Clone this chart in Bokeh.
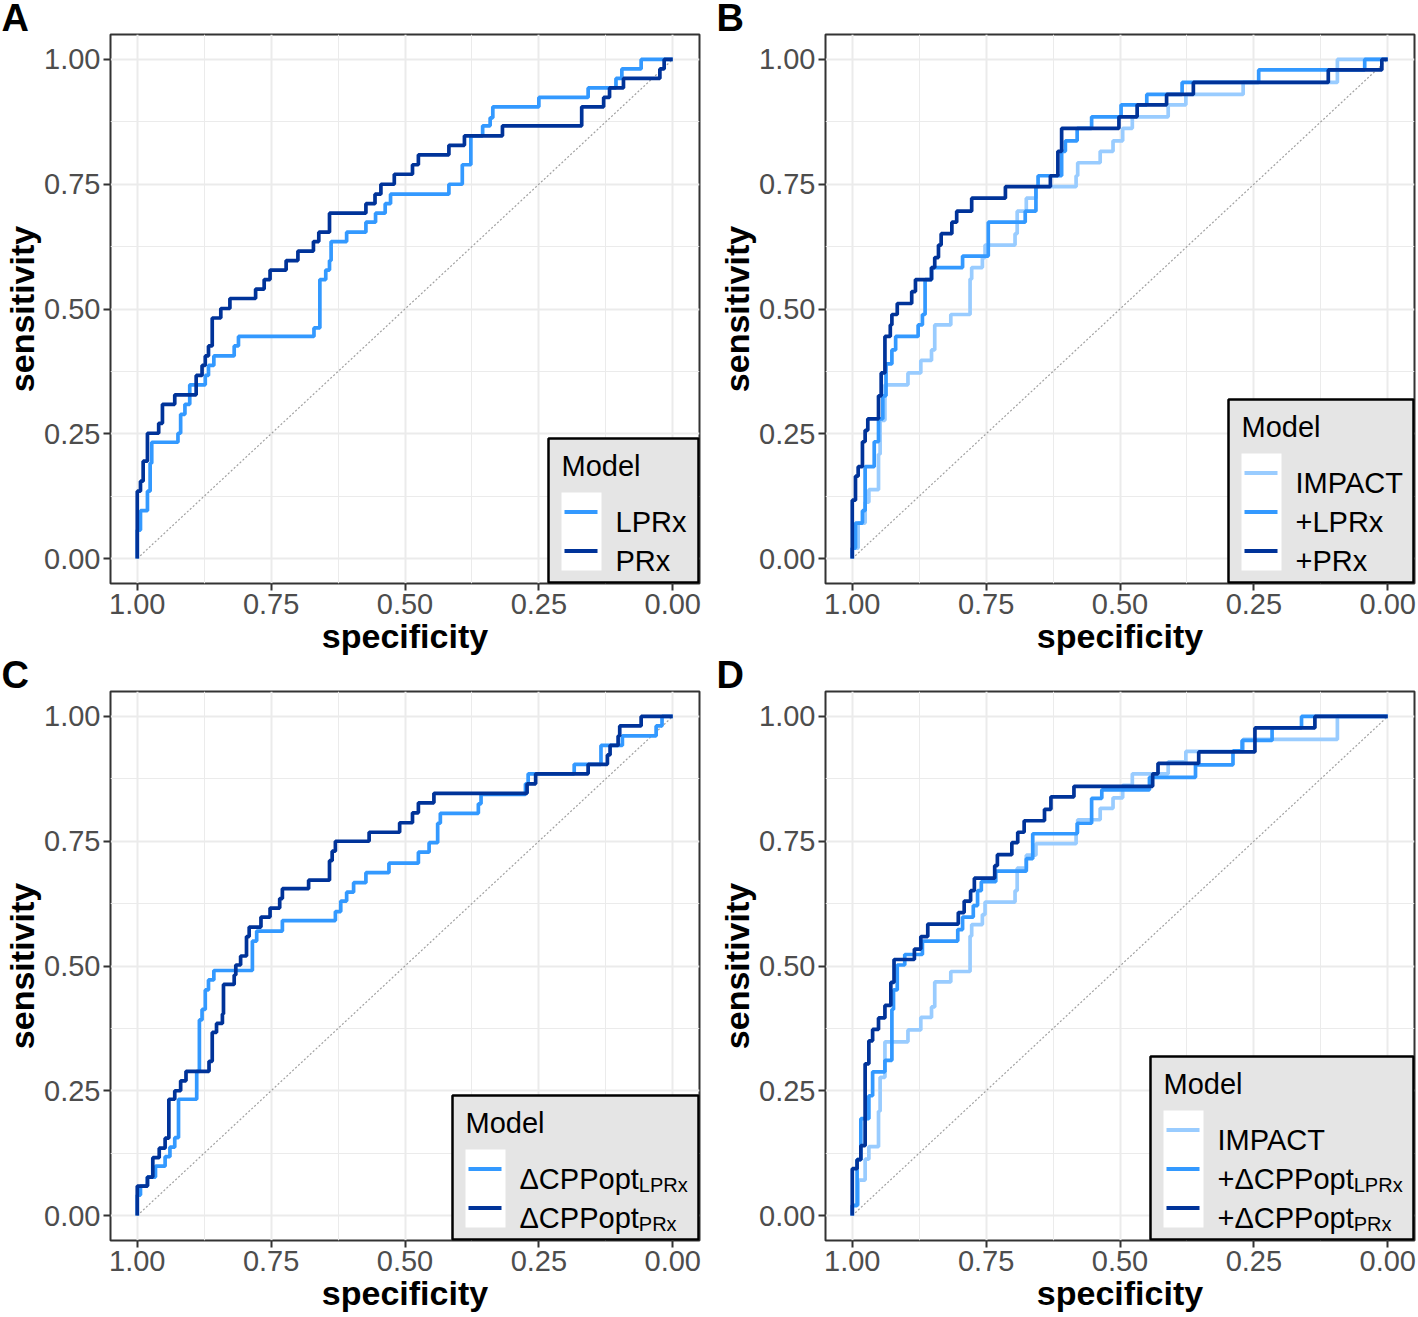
from bokeh.plotting import figure
from bokeh.layouts import row, column
from bokeh.models import Range1d, FixedTicker, NumeralTickFormatter
from bokeh.core.properties import value
from bokeh.embed import file_html
from bokeh.resources import INLINE

# ---------------- data (specificity at which each step rises, sensitivity reached) -------------
A_LPRx_spec = [1.0, 0.994, 0.981, 0.976, 0.973, 0.924, 0.919, 0.911, 0.902, 0.873, 0.867, 0.857, 0.819, 0.811,
               0.670, 0.659, 0.648, 0.641, 0.638, 0.609, 0.573, 0.555, 0.537, 0.527, 0.418, 0.393, 0.377, 0.355,
               0.341, 0.336, 0.250, 0.158, 0.106, 0.095, 0.059]
A_LPRx_sens = [0.057, 0.096, 0.135, 0.191, 0.233, 0.251, 0.289, 0.309, 0.348, 0.367, 0.387, 0.406, 0.426, 0.445,
               0.462, 0.559, 0.578, 0.597, 0.635, 0.654, 0.674, 0.692, 0.711, 0.730, 0.750, 0.789, 0.847, 0.867,
               0.883, 0.905, 0.924, 0.943, 0.962, 0.981, 1.0]

A_PRx_spec = [1.0, 0.994, 0.989, 0.981, 0.960, 0.953, 0.930, 0.890, 0.879, 0.873, 0.867, 0.860, 0.844, 0.827,
              0.779, 0.763, 0.752, 0.722, 0.700, 0.671, 0.661, 0.641, 0.573, 0.556, 0.545, 0.520, 0.486, 0.475,
              0.418, 0.389, 0.318, 0.170, 0.129, 0.118, 0.092, 0.024, 0.016]
A_PRx_sens = [0.135, 0.155, 0.195, 0.251, 0.271, 0.309, 0.328, 0.367, 0.387, 0.406, 0.426, 0.482, 0.501, 0.521,
              0.540, 0.559, 0.578, 0.597, 0.616, 0.635, 0.654, 0.692, 0.711, 0.730, 0.750, 0.770, 0.789, 0.809,
              0.828, 0.847, 0.867, 0.905, 0.924, 0.943, 0.962, 0.981, 1.0]

IMPACT_spec = [1.0, 0.989, 0.976, 0.969, 0.951, 0.948, 0.939, 0.896, 0.872, 0.852, 0.846, 0.816, 0.780, 0.777,
               0.757, 0.752, 0.696, 0.692, 0.675, 0.657, 0.582, 0.579, 0.537, 0.513, 0.495, 0.477, 0.410, 0.377,
               0.270, 0.094]
IMPACT_sens = [0.021, 0.071, 0.113, 0.138, 0.209, 0.277, 0.348, 0.372, 0.397, 0.418, 0.468, 0.489, 0.560, 0.583,
               0.603, 0.628, 0.651, 0.696, 0.722, 0.745, 0.767, 0.793, 0.816, 0.837, 0.862, 0.885, 0.909, 0.930,
               0.954, 1.0]

B_LPRx_spec = [1.0, 0.994, 0.981, 0.976, 0.959, 0.951, 0.943, 0.937, 0.926, 0.919, 0.877, 0.869, 0.864, 0.852,
               0.794, 0.746, 0.677, 0.657, 0.653, 0.609, 0.602, 0.580, 0.553, 0.498, 0.450, 0.384, 0.241, 0.043]
B_LPRx_sens = [0.021, 0.071, 0.096, 0.184, 0.234, 0.280, 0.326, 0.390, 0.418, 0.445, 0.468, 0.489, 0.559, 0.583,
               0.606, 0.674, 0.696, 0.745, 0.767, 0.816, 0.837, 0.862, 0.885, 0.909, 0.930, 0.954, 0.979, 1.0]

B_PRx_spec = [1.0, 0.994, 0.989, 0.981, 0.976, 0.971, 0.951, 0.946, 0.939, 0.929, 0.926, 0.916, 0.889, 0.882,
              0.852, 0.846, 0.839, 0.834, 0.814, 0.805, 0.777, 0.714, 0.630, 0.616, 0.609, 0.502, 0.468, 0.413,
              0.363, 0.111, 0.011]
B_PRx_sens = [0.117, 0.165, 0.184, 0.234, 0.257, 0.280, 0.326, 0.372, 0.445, 0.468, 0.489, 0.511, 0.535, 0.559,
              0.583, 0.603, 0.628, 0.651, 0.674, 0.696, 0.722, 0.745, 0.767, 0.816, 0.862, 0.885, 0.909, 0.930,
              0.954, 0.979, 1.0]

C_LPRx_spec = [1.0, 0.994, 0.981, 0.966, 0.948, 0.939, 0.930, 0.923, 0.889, 0.884, 0.879, 0.873, 0.867, 0.857,
               0.785, 0.777, 0.729, 0.630, 0.620, 0.609, 0.596, 0.573, 0.530, 0.475, 0.455, 0.439, 0.434, 0.363,
               0.358, 0.275, 0.270, 0.184, 0.134, 0.094, 0.031, 0.020]
C_LPRx_sens = [0.041, 0.059, 0.077, 0.099, 0.118, 0.137, 0.156, 0.233, 0.289, 0.392, 0.413, 0.452, 0.472, 0.491,
               0.550, 0.570, 0.591, 0.609, 0.630, 0.648, 0.667, 0.687, 0.706, 0.728, 0.747, 0.786, 0.806, 0.825,
               0.844, 0.865, 0.885, 0.904, 0.942, 0.961, 0.981, 1.0]

C_PRx_spec = [1.0, 0.981, 0.971, 0.959, 0.948, 0.941, 0.930, 0.919, 0.909, 0.866, 0.860, 0.852, 0.841, 0.839,
              0.819, 0.816, 0.807, 0.796, 0.791, 0.769, 0.752, 0.734, 0.729, 0.680, 0.641, 0.636, 0.630, 0.567,
              0.510, 0.486, 0.475, 0.446, 0.272, 0.256, 0.158, 0.122, 0.117, 0.102, 0.099, 0.059]
C_PRx_sens = [0.059, 0.077, 0.116, 0.135, 0.155, 0.233, 0.250, 0.270, 0.289, 0.309, 0.367, 0.385, 0.404, 0.463,
              0.482, 0.502, 0.520, 0.559, 0.578, 0.598, 0.616, 0.635, 0.655, 0.672, 0.711, 0.730, 0.750, 0.768,
              0.787, 0.807, 0.827, 0.846, 0.865, 0.885, 0.904, 0.923, 0.942, 0.961, 0.981, 1.0]

D_LPRx_spec = [1.0, 0.991, 0.984, 0.969, 0.962, 0.939, 0.926, 0.923, 0.916, 0.902, 0.869, 0.803, 0.794, 0.774,
               0.766, 0.759, 0.732, 0.675, 0.663, 0.580, 0.553, 0.534, 0.445, 0.359, 0.289, 0.272, 0.216, 0.161]
D_LPRx_sens = [0.020, 0.112, 0.194, 0.240, 0.288, 0.311, 0.413, 0.452, 0.502, 0.523, 0.550, 0.573, 0.598, 0.621,
               0.651, 0.669, 0.690, 0.715, 0.765, 0.786, 0.836, 0.853, 0.878, 0.903, 0.931, 0.952, 0.977, 1.0]

D_PRx_spec = [1.0, 0.991, 0.984, 0.976, 0.969, 0.962, 0.951, 0.939, 0.928, 0.922, 0.884, 0.872, 0.859, 0.802,
              0.791, 0.779, 0.772, 0.734, 0.729, 0.702, 0.691, 0.679, 0.641, 0.629, 0.586, 0.439, 0.429, 0.353,
              0.248, 0.136]
D_PRx_sens = [0.094, 0.112, 0.140, 0.304, 0.350, 0.373, 0.396, 0.421, 0.467, 0.513, 0.534, 0.559, 0.584, 0.607,
              0.630, 0.651, 0.676, 0.701, 0.723, 0.747, 0.768, 0.791, 0.814, 0.839, 0.860, 0.885, 0.906, 0.929,
              0.977, 1.0]

TICKS = [0.0, 0.25, 0.5, 0.75, 1.0]
MINOR_TICKS = [0.125, 0.375, 0.625, 0.875]

# ---------------- styling ----------------
FONT = "Liberation Sans"
C_IMPACT = "#99CCFF"
C_MID = "#3399FF"
C_DARK = "#003399"

# try a negative title standoff so the letter row stays compact; fall back to a shorter frame
_probe = figure()
try:
    _probe.title.standoff = -10
    TITLE_STANDOFF, FH = -10, 549
except Exception:
    TITLE_STANDOFF, FH = 0, 539
FW = 589
XR = (1.05, -0.05)
YR = (-0.05, 1.05)
PXX = (XR[0] - XR[1]) / FW
PXY = (YR[1] - YR[0]) / FH

CHAR_W = {"Δ": 0.668, "C": 0.722, "P": 0.667, "o": 0.556, "p": 0.556, "t": 0.278, "+": 0.584}


def text_width(s, size):
    return sum(CHAR_W.get(ch, 0.556) for ch in s) * size


def step_path(spec, sens):
    xs, ys = [spec[0]], [0.0]
    for i in range(len(spec)):
        xs.append(spec[i]); ys.append(sens[i])
        nxt = spec[i + 1] if i + 1 < len(spec) else 0.0
        xs.append(nxt); ys.append(sens[i])
    return xs, ys


def xr(px):  # px measured leftwards from the frame's right edge
    return XR[1] + px * PXX


def yb(px):  # px measured upwards from the frame's bottom edge
    return YR[0] + px * PXY


def make_panel(letter, curves, items, legend_w, right_border):
    p = figure(frame_width=FW, frame_height=FH, x_range=Range1d(*XR), y_range=Range1d(*YR),
               output_backend="svg", toolbar_location=None,
               min_border_top=34, min_border_right=right_border, min_border_left=0, min_border_bottom=0)
    p.background_fill_color = "white"
    p.border_fill_color = "white"
    p.outline_line_color = "#333333"
    p.outline_line_width = 2

    # panel letter as the title
    p.title.text = letter
    p.title.text_font = FONT
    p.title.text_font_size = "38px"
    p.title.text_font_style = "bold"
    p.title.text_color = "black"
    p.title.align = "left"
    p.title.offset = -109
    p.title.standoff = TITLE_STANDOFF
    p.title.vertical_align = "middle"

    for ax, lab in ((p.xaxis, "specificity"), (p.yaxis, "sensitivity")):
        ax.ticker = FixedTicker(ticks=TICKS, minor_ticks=MINOR_TICKS)
        ax.formatter = NumeralTickFormatter(format="0.00")
        ax.axis_label = lab
        ax.axis_label_text_font = FONT
        ax.axis_label_text_font_style = "bold"
        ax.axis_label_text_font_size = "34px"
        ax.axis_label_text_color = "black"
        ax.axis_label_standoff = 0
        ax.major_label_text_font = FONT
        ax.major_label_text_font_size = "29px"
        ax.major_label_text_color = "#4D4D4D"
        ax.major_label_standoff = 3
        ax.axis_line_color = None
        ax.major_tick_line_color = "#333333"
        ax.major_tick_line_width = 2
        ax.major_tick_out = 7
        ax.major_tick_in = 0
        ax.minor_tick_line_color = None

    for g in (p.xgrid, p.ygrid):
        g.grid_line_color = "#EBEBEB"
        g.grid_line_width = 2
        g.minor_grid_line_color = "#EBEBEB"
        g.minor_grid_line_width = 1

    p.line([1.0, 0.0], [0.0, 1.0], line_color="#A0A0A0", line_width=1.2, line_dash="2 2")

    for spec, sens, col in curves:
        xs, ys = step_path(spec, sens)
        p.line(xs, ys, line_color=col, line_width=3.7)

    # ---- legend (bottom-right, inside) ----
    n = len(items)
    box_h = 67 + 39 * n
    p.quad(left=[xr(legend_w)], right=[xr(1)], top=[yb(box_h)], bottom=[yb(1)],
           fill_color="#E5E5E5", line_color="black", line_width=2.5)
    p.text(x=[xr(legend_w - 13)], y=[yb(box_h - 27)], text=["Model"],
           text_font=value(FONT), text_font_size="29px", text_baseline="middle", text_align="left",
           text_color="black")
    p.quad(left=[xr(legend_w - 13)], right=[xr(legend_w - 53)], top=[yb(box_h - 54)],
           bottom=[yb(box_h - 54 - 39 * n)], fill_color="white", line_color=None)
    for i, (main, sub, col) in enumerate(items):
        yc = box_h - 54 - 19.5 - 39 * i
        p.line([xr(legend_w - 16), xr(legend_w - 49)], [yb(yc), yb(yc)], line_color=col, line_width=4)
        p.text(x=[xr(legend_w - 67)], y=[yb(yc - 10.4)], text=[main],
               text_font=value(FONT), text_font_size="29px", text_baseline="alphabetic",
               text_align="left", text_color="black")
        if sub:
            p.text(x=[xr(legend_w - 67 - text_width(main, 29))], y=[yb(yc - 15.5)], text=[sub],
                   text_font=value(FONT), text_font_size="20px", text_baseline="alphabetic",
                   text_align="left", text_color="black")
    return p


pA = make_panel("A", [(A_LPRx_spec, A_LPRx_sens, C_MID), (A_PRx_spec, A_PRx_sens, C_DARK)],
                [("LPRx", "", C_MID), ("PRx", "", C_DARK)], 151, 16)
pB = make_panel("B", [(IMPACT_spec, IMPACT_sens, C_IMPACT), (B_LPRx_spec, B_LPRx_sens, C_MID),
                      (B_PRx_spec, B_PRx_sens, C_DARK)],
                [("IMPACT", "", C_IMPACT), ("+LPRx", "", C_MID), ("+PRx", "", C_DARK)], 186, 2)
pC = make_panel("C", [(C_LPRx_spec, C_LPRx_sens, C_MID), (C_PRx_spec, C_PRx_sens, C_DARK)],
                [("ΔCPPopt", "LPRx", C_MID), ("ΔCPPopt", "PRx", C_DARK)], 247, 16)
pD = make_panel("D", [(IMPACT_spec, IMPACT_sens, C_IMPACT), (D_LPRx_spec, D_LPRx_sens, C_MID),
                      (D_PRx_spec, D_PRx_sens, C_DARK)],
                [("IMPACT", "", C_IMPACT), ("+ΔCPPopt", "LPRx", C_MID), ("+ΔCPPopt", "PRx", C_DARK)], 264, 2)

layout = column(row(pA, pB), row(pC, pD))
open("out.html", "w").write(file_html(layout, INLINE))
